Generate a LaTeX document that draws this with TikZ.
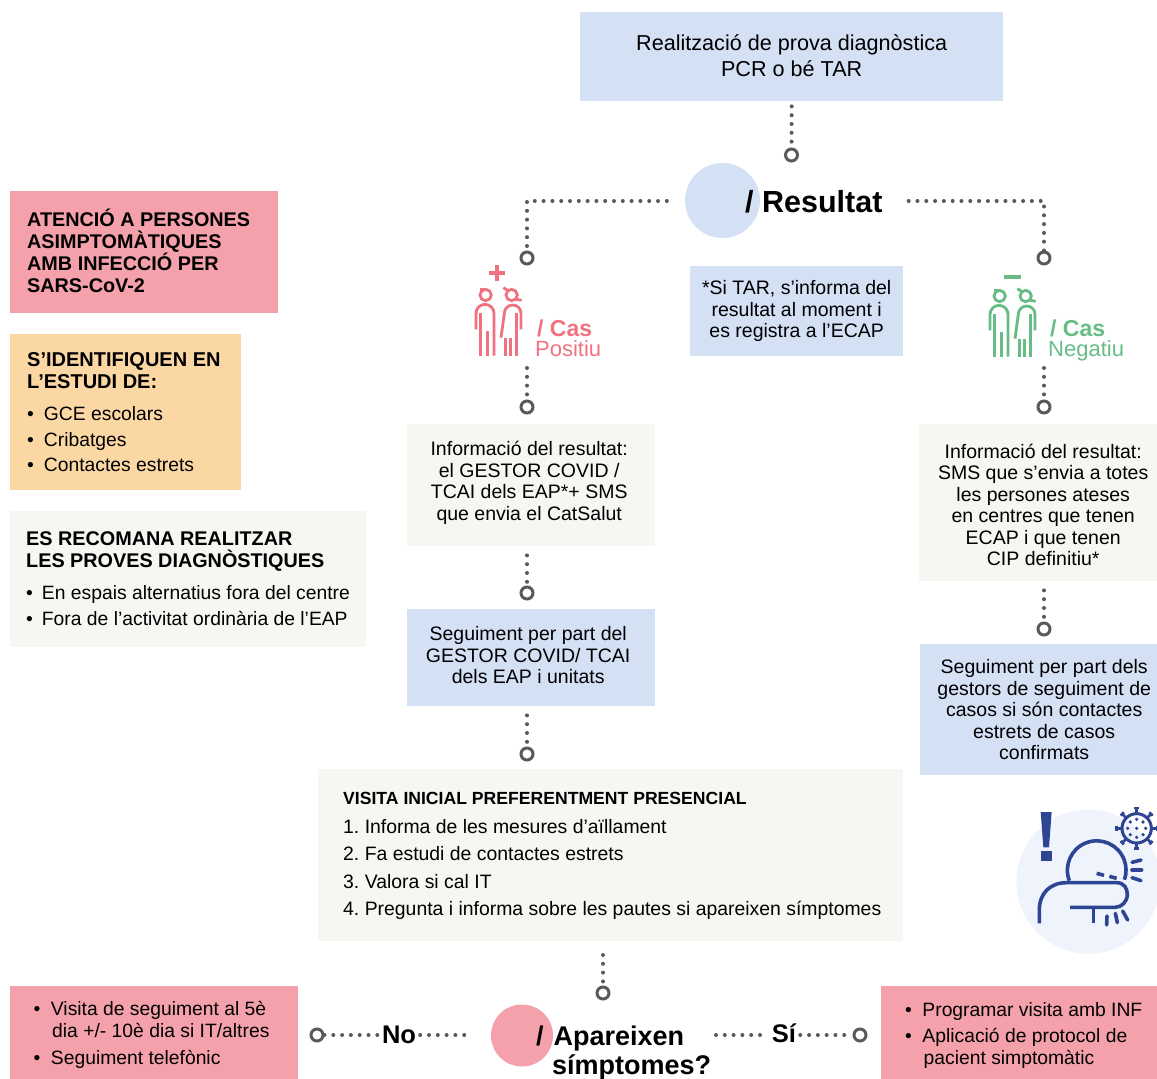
\documentclass[tikz,border=0pt]{standalone}
\usepackage{fontspec}
\setmainfont{Liberation Sans}
\usepackage{xcolor}
\definecolor{covidblue}{RGB}{212, 224, 244}
\definecolor{covidpink}{RGB}{244, 161, 171}
\definecolor{covidorange}{RGB}{251, 215, 164}
\definecolor{covidpale}{RGB}{244, 247, 242}
\definecolor{covidgray}{RGB}{88, 89, 91}
\definecolor{covidred}{RGB}{240, 114, 127}
\definecolor{covidgreen}{RGB}{102, 188, 132}
\definecolor{covidnavy}{RGB}{46, 69, 147}
\definecolor{covidhalo}{RGB}{239, 244, 252}
\tikzset{
  infobox/.style={anchor=north west, inner sep=0pt},
  boxtext/.style={inner sep=0pt, align=center, font=\frenchspacing\fontsize{19.5}{21.5}\selectfont},
  listtext/.style={anchor=west, inner sep=0pt, align=left, font=\frenchspacing\fontsize{19.3}{21.5}\selectfont},
  ring/.style={circle, draw=covidgray, line width=3pt, fill=white, minimum size=12pt, inner sep=0pt},
  dots/.style={covidgray, line width=4pt, line cap=round, dash pattern=on 0pt off 8.8pt},
  bigtext/.style={anchor=base west, inner sep=0pt, font=\fontsize{30.5}{30.5}\selectfont\bfseries},
  caselabel/.style={anchor=north west, inner sep=0pt, align=left, font=\fontsize{22}{18}\selectfont},
  couple/.pic={
    \begin{scope}[scale=1/3, line width=2.8pt]
      \draw (47,135) circle[radius=17];
      \draw (30,118) -- (48,118);
      \draw (18,238) -- (18,190) arc[start angle=180, end angle=360, radius=27] -- (72,317);
      \draw (32,190) -- (32,317);
      \draw (52,243) -- (52,317);
      \draw (125,135) circle[radius=17];
      \draw (100,113) -- (116,123);
      \draw (135,147) -- (155,151);
      \draw (93,263) -- (103,190) arc[start angle=180, end angle=360, radius=25] -- (153,238);
      \draw (107,263) -- (107,317);
      \draw (122,263) -- (122,317);
      \draw (140,190) -- (140,317);
    \end{scope}
  }
}

\begin{document}
\begin{tikzpicture}[x=1pt, y=-1pt]
\clip (0,0) rectangle (1157,1079);

% left column
\node[infobox, fill=covidpink, minimum width=268, minimum height=122] (asympt) at (10,191) {};
\node[listtext, font=\fontsize{19.8}{21.8}\selectfont\bfseries] (asympttext) at ([xshift=17pt, yshift=1.5pt]asympt.west) {ATENCIÓ A PERSONES\\ASIMPTOMÀTIQUES\\AMB INFECCIÓ PER\\SARS-CoV-2};
\node[infobox, fill=covidorange, minimum width=231, minimum height=156] (identify) at (10,334) {};
\node[listtext] (identifytext) at ([xshift=17pt]identify.west) {{\fontsize{20}{21.5}\selectfont\textbf{S’IDENTIFIQUEN EN}}\\\textbf{\fontsize{20}{21.5}\selectfont L’ESTUDI DE:}\\[11pt]\textbullet\hspace{10pt}GCE escolars\\[4pt]\textbullet\hspace{10pt}Cribatges\\[4pt]\textbullet\hspace{10pt}Contactes estrets};
\node[infobox, fill=covidpale, minimum width=356, minimum height=136] (recommend) at (10,511) {};
\node[listtext] (recommendtext) at ([xshift=16pt, yshift=0.5pt]recommend.west) {{\fontsize{19.8}{21.5}\selectfont\textbf{ES RECOMANA REALITZAR}}\\{\fontsize{19.8}{21.5}\selectfont\textbf{LES PROVES DIAGNÒSTIQUES}}\\[10.5pt]\textbullet\hspace{9pt}En espais alternatius fora del centre\\[4.5pt]\textbullet\hspace{9pt}Fora de l’activitat ordinària de l’EAP};

% top of the flow
\node[infobox, fill=covidblue, minimum width=423, minimum height=89] (test) at (580,12) {};
\node[boxtext, font=\fontsize{21.6}{26}\selectfont] (testtext) at ([yshift=1.5pt]test.center) {Realització de prova diagnòstica\\PCR o bé TAR};
\node[circle, fill=covidblue, minimum size=75pt, inner sep=0pt] (rescircle) at (722.5,200.5) {};
\node[bigtext] (restext) at (745,212) {/ Resultat};
\node[infobox, fill=covidblue, minimum width=213, minimum height=90] (tarnote) at (690,266) {};
\node[boxtext] (tartext) at (tarnote.center) {*Si TAR, s’informa del\\resultat al moment i\\es registra a l’ECAP};

\node[ring] (rtest) at (791.5,155) {};
\node[ring] (rpos) at (527,258) {};
\node[ring] (rneg) at (1044,258) {};
\draw[dots] ([yshift=-5pt]test.south) -- (rtest);
\draw[dots] ([xshift=-18pt, yshift=-0.5pt]rescircle.west) -| (rpos);
\draw[dots] ([xshift=26pt, yshift=-0.5pt]restext.east |- rescircle) -| (rneg);

% positive branch
\pic[covidred] at (470,250) {couple};
\draw[covidred, line width=3.4pt] (489,273) -- (505,273) (497,265) -- (497,281);
\node[caselabel, text=covidred] (poslabel) at (535,320) {\hspace{2pt}\textbf{\fontsize{23}{18}\selectfont / Cas}\\[1.5pt]Positiu};
\node[ring] (rposinfo) at (527,407) {};
\coordinate (posstart) at (527,368);
\draw[dots] (posstart) -- (rposinfo);
\node[infobox, fill=covidpale, minimum width=248, minimum height=122] (posinfo) at (407,424) {};
\node[boxtext] (postext) at ([xshift=-2pt, yshift=2.5pt]posinfo.center) {Informació del resultat:\\el GESTOR COVID /\\TCAI dels EAP*+ SMS\\que envia el CatSalut};
\node[ring] (rposfollow) at (527,593) {};
\draw[dots] ([yshift=-9pt]posinfo.south -| rposfollow) -- (rposfollow);
\node[infobox, fill=covidblue, minimum width=248, minimum height=97] (posfollow) at (407,609) {};
\node[boxtext] (followtext) at ([xshift=-3pt, yshift=2.5pt]posfollow.center) {Seguiment per part del\\GESTOR COVID/ TCAI\\dels EAP i unitats};
\node[ring] (rvisit) at (527,754) {};
\draw[dots] ([yshift=-9pt]posfollow.south -| rvisit) -- (rvisit);

% negative branch
\pic[covidgreen] at (984,251) {couple};
\draw[covidgreen, line width=3.4pt] (1004,277) -- (1021,277);
\node[caselabel, text=covidgreen] (neglabel) at (1048,320) {\hspace{2pt}\textbf{\fontsize{23}{18}\selectfont / Cas}\\[1.5pt]Negatiu};
\node[ring] (rneginfo) at (1044,407) {};
\coordinate (negstart) at (1044,368);
\draw[dots] (negstart) -- (rneginfo);
\node[infobox, fill=covidpale, minimum width=238, minimum height=157] (neginfo) at (919,424) {};
\node[boxtext] (negtext) at ([xshift=5pt, yshift=-2pt]neginfo.center) {Informació del resultat:\\SMS que s’envia a totes\\les persones ateses\\en centres que tenen\\ECAP i que tenen\\CIP definitiu*};
\node[ring] (rnegfollow) at (1044,629) {};
\draw[dots] ([yshift=-9pt]neginfo.south -| rnegfollow) -- (rnegfollow);
\node[infobox, fill=covidblue, minimum width=237, minimum height=131] (negfollow) at (920,644) {};
\node[boxtext] (negfollowtext) at ([xshift=5.5pt]negfollow.center) {Seguiment per part dels\\gestors de seguiment de\\casos si són contactes\\estrets de casos\\confirmats};

% first visit
\node[infobox, fill=covidpale, minimum width=585, minimum height=172] (visit) at (318,769) {};
\node[listtext, font=\frenchspacing\fontsize{19.4}{27.5}\selectfont] (visittext) at ([xshift=25pt, yshift=-0.5pt]visit.west) {{\fontsize{17.6}{17.5}\selectfont\textbf{VISITA INICIAL PREFERENTMENT PRESENCIAL}}\\[1.5pt]1. Informa de les mesures d’aïllament\\2. Fa estudi de contactes estrets\\3. Valora si cal IT\\4. Pregunta i informa sobre les pautes si apareixen símptomes};

% coughing figure
\fill[covidhalo] (1088.3,881.7) circle[radius=72];
\begin{scope}[shift={(980,790)}, scale=1/3, covidnavy, line width=3.6pt]
  \fill (182,66) -- (215,66) -- (207,172) -- (190,172) -- cycle;
  \fill (182,182) rectangle (215,212);
  \draw (268,272) arc[start angle=159, end angle=379, radius=88];
  \draw (178,400) -- (178,360) .. controls (178,310) and (210,278) .. (260,278) -- (410,278) .. controls (432,278) and (442,295) .. (442,313) .. controls (442,335) and (425,352) .. (405,352) -- (270,352);
  \draw (341,352) -- (341,400);
  \draw (350,250) -- (372,256);
  \draw (388,259) -- (410,265);
  \begin{scope}[line cap=round]
    \draw (456,217) -- (483,210);
    \draw (456,240) -- (485,240);
    \draw (456,263) -- (483,272);
    \draw (381,378) -- (380,405);
    \draw (406,370) -- (412,398);
    \draw (428,363) -- (443,390);
  \end{scope}
  \draw[line width=3pt] (470,115) circle[radius=44];
  \foreach \a in {0,45,...,315} {
    \draw[line width=2.6pt] (470,115) ++(\a:44) -- ++(\a:17) ++(\a+90:7) -- ++(\a-90:14);
  }
  \foreach \a in {0,45,...,315} {
    \fill (470,115) ++(\a:27) circle[radius=5.5];
  }
  \fill (470,115) circle[radius=5.5];
\end{scope}

% bottom question
\node[ring] (rquestion) at (603,993) {};
\coordinate (visitout) at (603,955);
\draw[dots] (visitout) -- (rquestion);
\node[circle, fill=covidpink, minimum size=62pt, inner sep=0pt] (qcircle) at (522,1035.5) {};
\node[bigtext, font=\fontsize{27}{28.5}\selectfont\bfseries, anchor=north west, align=left] (qtext) at (536,1026) {/\hspace{10pt}Apareixen\\\hspace{16pt}símptomes?};
\node[bigtext, font=\fontsize{25.5}{25.5}\selectfont\bfseries, anchor=base] (notext) at (399,1043) {No};
\node[bigtext, font=\fontsize{25.5}{25.5}\selectfont\bfseries, anchor=base] (sitext) at (784,1042) {Sí};
\node[ring] (rno) at (317,1035) {};
\node[ring] (rsi) at (860,1035) {};
\coordinate (noend) at (468,1035);
\coordinate (siend) at (716,1035);
\draw[dots] (rno) -- ([xshift=-4pt]notext.west |- rno);
\draw[dots] ([xshift=4pt]notext.east |- rno) -- (noend);
\draw[dots] (siend) -- ([xshift=-4pt]sitext.west |- rsi);
\draw[dots] ([xshift=4pt]sitext.east |- rsi) -- (rsi);
\node[infobox, fill=covidpink, minimum width=288, minimum height=93] (noplan) at (10,986) {};
\node[listtext] (noplantext) at ([xshift=23.5pt, yshift=-2.5pt]noplan.west) {\textbullet\hspace{10.5pt}Visita de seguiment al 5è\\\hspace{18.5pt}dia +/- 10è dia si IT/altres\\[6pt]\textbullet\hspace{10.5pt}Seguiment telefònic};
\node[infobox, fill=covidpink, minimum width=276, minimum height=93] (siplan) at (881,986) {};
\node[listtext] (siplantext) at ([xshift=24pt, yshift=-2.5pt]siplan.west) {\textbullet\hspace{10.5pt}Programar visita amb INF\\[5pt]\textbullet\hspace{10.5pt}Aplicació de protocol de\\\hspace{18.5pt}pacient simptomàtic};
\end{tikzpicture}
\end{document}
